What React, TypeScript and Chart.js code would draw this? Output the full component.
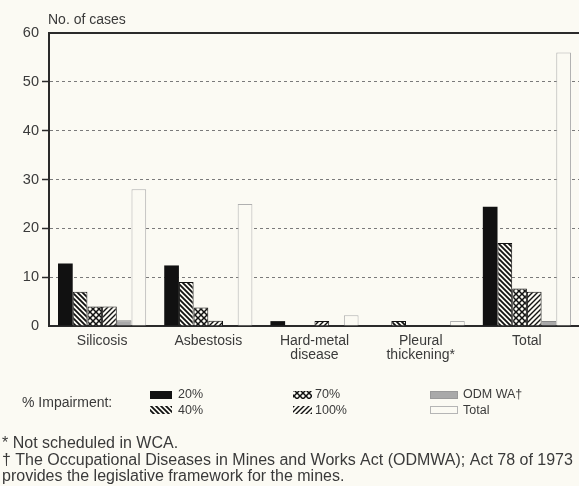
import React, { useEffect, useRef } from 'react';
import { Chart, registerables } from 'chart.js';
Chart.register(...registerables);

const categories: (string | string[])[] = ['Silicosis', 'Asbestosis', ['Hard-metal', 'disease'], ['Pleural', 'thickening*'], 'Total'];
const impairment20 = [12.8, 12.4, 1, 0, 24.4];
const impairment40 = [7, 9, 0, 1, 17];
const impairment70 = [4, 3.8, 0, 0, 7.7];
const impairment100 = [4, 1.1, 1, 0, 7];
const odmwa = [1.2, 0, 0, 0, 1];
const totals = [28, 25, 2.2, 1, 56];
const yTicks = [0, 10, 20, 30, 40, 50, 60];

const BG = '#fbfaf3';
const INK = '#2a2a2a';
const TEXT = '#3a3a3a';
const FONT = '"Liberation Sans", Arial, sans-serif';

function makePattern(kind: string): CanvasPattern | string {
  const c = document.createElement('canvas');
  const s = kind === 'cross' ? 6 : 5;
  c.width = s;
  c.height = s;
  const g = c.getContext('2d')!;
  g.fillStyle = BG;
  g.fillRect(0, 0, s, s);
  g.strokeStyle = '#111';
  g.lineWidth = kind === 'back' ? 1.8 : kind === 'fwd' ? 1.4 : 1.5;
  const back = () => {
    g.beginPath();
    g.moveTo(-1, -1); g.lineTo(s + 1, s + 1);
    g.moveTo(-1, s - 1); g.lineTo(1, s + 1);
    g.moveTo(s - 1, -1); g.lineTo(s + 1, 1);
    g.stroke();
  };
  const fwd = () => {
    g.beginPath();
    g.moveTo(-1, s + 1); g.lineTo(s + 1, -1);
    g.moveTo(-1, 1); g.lineTo(1, -1);
    g.moveTo(s - 1, s + 1); g.lineTo(s + 1, s - 1);
    g.stroke();
  };
  if (kind === 'back') back();
  if (kind === 'fwd') fwd();
  if (kind === 'cross') { back(); fwd(); }
  const p = g.createPattern(c, 'repeat');
  return p || '#666';
}

export default function App() {
  const ref = useRef<HTMLCanvasElement>(null);
  useEffect(() => {
    const canvas = ref.current!;
    const p40 = makePattern('back');
    const p70 = makePattern('cross');
    const p100 = makePattern('fwd');

    const extras = {
      id: 'extras',
      afterDraw(chart: any) {
        const { ctx, chartArea } = chart;
        ctx.save();
        // top frame line
        ctx.strokeStyle = INK;
        ctx.lineWidth = 2;
        ctx.beginPath();
        ctx.moveTo(chartArea.left - 1, chartArea.top);
        ctx.lineTo(chartArea.right, chartArea.top);
        ctx.stroke();

        ctx.fillStyle = TEXT;
        ctx.font = `14px ${FONT}`;
        ctx.textBaseline = 'middle';
        ctx.textAlign = 'left';
        ctx.fillText('No. of cases', 48, 20);

        // legend
        ctx.fillText('% Impairment:', 22, 403);
        const sw = (x: number, y: number, w: number, fill: any, stroke?: string) => {
          ctx.fillStyle = fill;
          ctx.fillRect(x, y, w, 8);
          if (stroke) {
            ctx.strokeStyle = stroke;
            ctx.lineWidth = 1;
            ctx.strokeRect(x + 0.5, y + 0.5, w - 1, 7);
          }
        };
        sw(150, 391, 22, '#111');
        sw(150, 406, 22, p40);
        sw(293, 391, 19, p70);
        sw(293, 406, 19, p100);
        sw(430, 391, 28, '#a9a9a9', '#999');
        sw(430, 406, 28, BG, '#b5b5b5');
        ctx.fillStyle = TEXT;
        ctx.font = `12.5px ${FONT}`;
        ctx.fillText('20%', 178, 395);
        ctx.fillText('40%', 178, 411);
        ctx.fillText('70%', 315, 395);
        ctx.fillText('100%', 315, 411);
        ctx.fillText('ODM WA\u2020', 463, 395);
        ctx.fillText('Total', 463, 411);

        // footnotes
        ctx.font = `16px ${FONT}`;
        ctx.fillText('* Not scheduled in WCA.', 2, 444);
        ctx.fillText('\u2020 The Occupational Diseases in Mines and Works Act (ODMWA); Act 78 of 1973', 2, 461);
        ctx.fillText('provides the legislative framework for the mines.', 2, 477);
        ctx.restore();
      },
    };

    const isInner = (v: number) => v > 0 && v < 60;

    const chart = new Chart(canvas, {
      type: 'bar',
      data: {
        labels: categories,
        datasets: [
          { label: '20%', data: impairment20, backgroundColor: '#111', borderWidth: 0 },
          { label: '40%', data: impairment40, backgroundColor: p40 as any, borderColor: '#111', borderWidth: 1 },
          { label: '70%', data: impairment70, backgroundColor: p70 as any, borderColor: '#111', borderWidth: 1 },
          { label: '100%', data: impairment100, backgroundColor: p100 as any, borderColor: '#111', borderWidth: 1 },
          { label: 'ODM WA\u2020', data: odmwa, backgroundColor: '#a9a9a9', borderColor: '#888', borderWidth: 1 },
          { label: 'Total', data: totals, backgroundColor: BG, borderColor: '#b0b0b0', borderWidth: 1 },
        ],
      },
      options: {
        responsive: false,
        animation: false,
        events: [],
        datasets: { bar: { barPercentage: 1, categoryPercentage: 0.83 } },
        layout: { padding: { top: 33, right: 20, bottom: 0, left: 0 } },
        plugins: { legend: { display: false }, tooltip: { enabled: false }, title: { display: false } },
        scales: {
          x: {
            grid: { display: false, drawTicks: false },
            border: { display: true, color: INK, width: 2 },
            ticks: {
              color: TEXT,
              font: { family: FONT, size: 14, lineHeight: 1 },
              padding: 8,
              maxRotation: 0,
              autoSkip: false,
            },
            afterFit: (s: any) => { s.height = 160; },
          },
          y: {
            min: 0,
            max: 60,
            afterBuildTicks: (s: any) => { s.ticks = yTicks.map((v) => ({ value: v })); },
            ticks: { color: TEXT, font: { family: FONT, size: 14.5 }, padding: 3 },
            grid: {
              color: (c: any) => (isInner(c.tick?.value) ? '#7a7a7a' : 'rgba(0,0,0,0)'),
              lineWidth: 1,
              tickLength: 7,
              tickWidth: 1.5,
              tickColor: (c: any) => (isInner(c.tick?.value) ? INK : 'rgba(0,0,0,0)'),
              tickBorderDash: [],
            } as any,
            border: { display: true, color: INK, width: 2, dash: [3, 3] } as any,
            afterFit: (s: any) => { s.width = 49; },
          },
        },
      },
      plugins: [extras],
    } as any);
    return () => chart.destroy();
  }, []);

  return (
    <div style={{ position: 'absolute', left: 0, top: 0, width: 579, height: 486, overflow: 'hidden', background: BG }}>
      <canvas ref={ref} width={600} height={486} style={{ display: 'block' }} />
    </div>
  );
}
